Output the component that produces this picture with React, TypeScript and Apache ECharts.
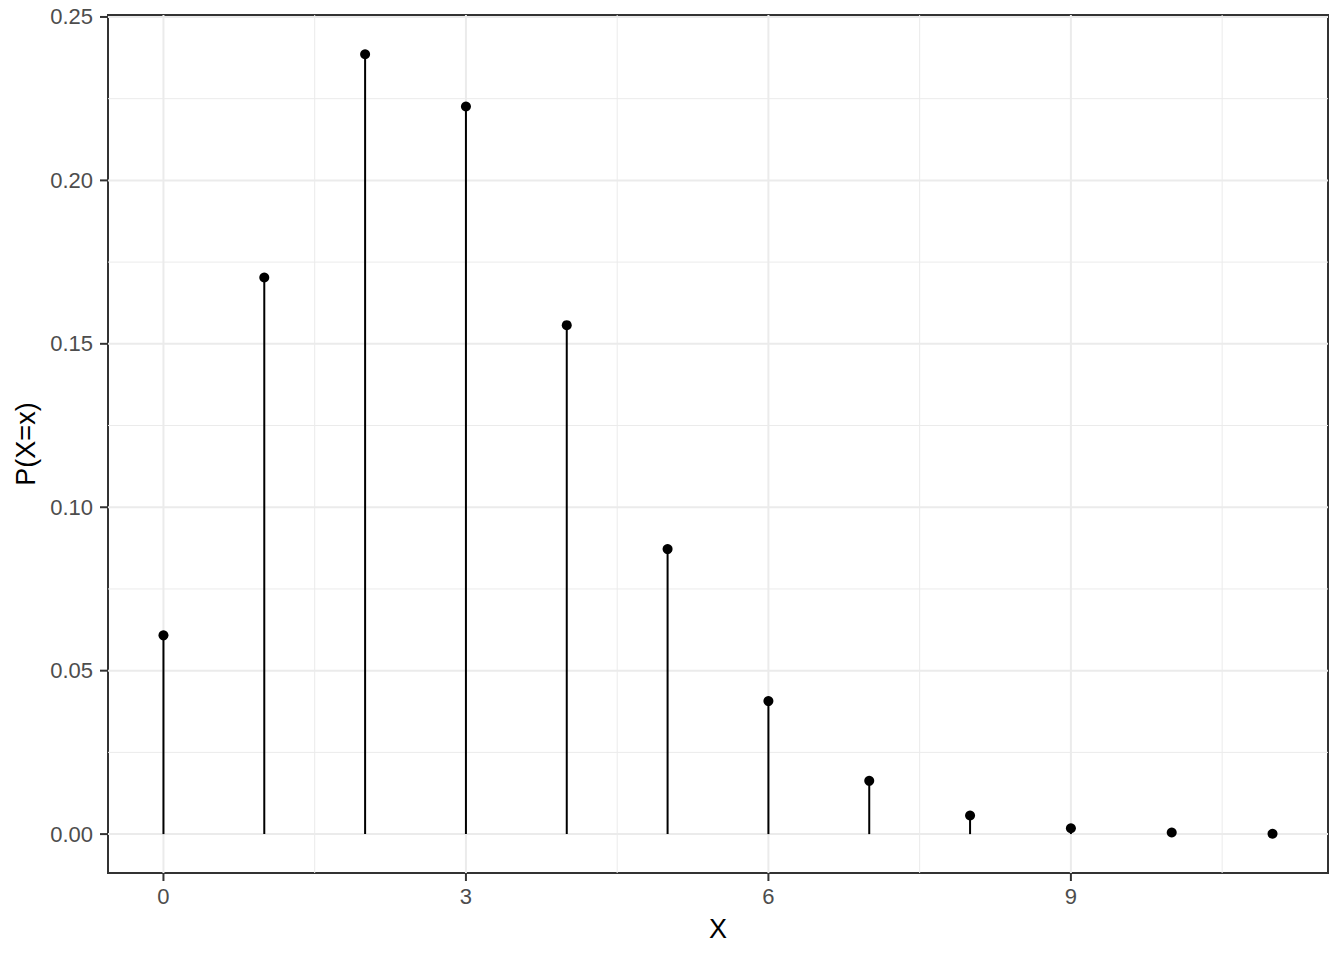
import React, { useEffect, useRef } from 'react';
import * as echarts from 'echarts';

// P(X=x), x = 0..11
const xValues = [0, 1, 2, 3, 4, 5, 6, 7, 8, 9, 10, 11];
const probValues = [0.0608, 0.1703, 0.2386, 0.2226, 0.1557, 0.0872, 0.0407, 0.0163, 0.0057, 0.0018, 0.0005, 0.0001];

const xTicks = [0, 3, 6, 9];
const xMinorGrid = [1.5, 4.5, 7.5, 10.5];
const yTicks = [0, 0.05, 0.1, 0.15, 0.2, 0.25];
const yMinorGrid = [0.025, 0.075, 0.125, 0.175, 0.225];

const X_MIN = -0.55;
const X_MAX = 11.55;
const Y_MIN = -0.0119;
const Y_MAX = 0.2506;

const FONT = '"Liberation Sans", Arial, sans-serif';
const GRID_COLOR = '#EBEBEB';
const FRAME = '#333333';
const TICK_LEN = 8;

// vertical / horizontal grid lines drawn through the axis scales
const vLines = (values: number[], width: number, z: number) => ({
    type: 'custom',
    silent: true,
    z,
    data: values.map((v) => [v, 0]),
    renderItem: (_params: any, api: any) => {
        const a = api.coord([api.value(0), Y_MIN]);
        const b = api.coord([api.value(0), Y_MAX]);
        return {
            type: 'line',
            shape: { x1: a[0], y1: a[1], x2: b[0], y2: b[1] },
            style: { stroke: GRID_COLOR, lineWidth: width },
        };
    },
});

const hLines = (values: number[], width: number, z: number) => ({
    type: 'custom',
    silent: true,
    z,
    data: values.map((v) => [0, v]),
    renderItem: (_params: any, api: any) => {
        const a = api.coord([X_MIN, api.value(1)]);
        const b = api.coord([X_MAX, api.value(1)]);
        return {
            type: 'line',
            shape: { x1: a[0], y1: a[1], x2: b[0], y2: b[1] },
            style: { stroke: GRID_COLOR, lineWidth: width },
        };
    },
});

// outward tick marks, like ggplot's
const xTickMarks = {
    type: 'custom',
    silent: true,
    clip: false,
    z: 20,
    data: xTicks.map((v) => [v, 0]),
    renderItem: (_params: any, api: any) => {
        const p = api.coord([api.value(0), Y_MIN]);
        return {
            type: 'line',
            shape: { x1: p[0], y1: p[1], x2: p[0], y2: p[1] + TICK_LEN },
            style: { stroke: FRAME, lineWidth: 2 },
        };
    },
};

const yTickMarks = {
    type: 'custom',
    silent: true,
    clip: false,
    z: 20,
    data: yTicks.map((v) => [0, v]),
    renderItem: (_params: any, api: any) => {
        const p = api.coord([X_MIN, api.value(1)]);
        return {
            type: 'line',
            shape: { x1: p[0] - TICK_LEN, y1: p[1], x2: p[0], y2: p[1] },
            style: { stroke: FRAME, lineWidth: 2 },
        };
    },
};

const App: React.FC = () => {
    const chartRef = useRef<HTMLDivElement>(null);

    useEffect(() => {
        if (!chartRef.current) return;
        const chart = echarts.init(chartRef.current, null, { renderer: 'svg' });

        const points = xValues.map((x, i) => [x, probValues[i]]);

        const option = {
            animation: false,
            backgroundColor: '#FFFFFF',
            grid: {
                left: 108,
                right: 16,
                top: 15,
                bottom: 87,
                show: true,
                borderColor: FRAME,
                borderWidth: 2,
                backgroundColor: 'transparent',
            },
            xAxis: {
                type: 'value',
                min: X_MIN,
                max: X_MAX,
                name: 'X',
                nameLocation: 'middle',
                nameGap: 42,
                nameTextStyle: { color: '#000000', fontSize: 27, fontFamily: FONT },
                axisLine: { show: false, onZero: false },
                splitLine: { show: false },
                axisTick: { show: false },
                axisLabel: {
                    customValues: xTicks,
                    color: '#4D4D4D',
                    fontSize: 22,
                    fontFamily: FONT,
                    margin: 12,
                },
            },
            yAxis: {
                type: 'value',
                min: Y_MIN,
                max: Y_MAX,
                name: 'P(X=x)',
                nameLocation: 'middle',
                nameRotate: 90,
                nameGap: 64,
                nameTextStyle: { color: '#000000', fontSize: 27, fontFamily: FONT },
                axisLine: { show: false, onZero: false },
                splitLine: { show: false },
                axisTick: { show: false },
                axisLabel: {
                    customValues: yTicks,
                    color: '#4D4D4D',
                    fontSize: 22,
                    fontFamily: FONT,
                    margin: 15,
                    formatter: (v: number) => v.toFixed(2),
                },
            },
            series: [
                vLines(xMinorGrid, 1, 1),
                hLines(yMinorGrid, 1, 1),
                vLines(xTicks, 2, 2),
                hLines(yTicks, 2, 2),
                xTickMarks,
                yTickMarks,
                {
                    type: 'custom',
                    silent: true,
                    z: 3,
                    data: points,
                    renderItem: (_params: any, api: any) => {
                        const base = api.coord([api.value(0), 0]);
                        const top = api.coord([api.value(0), api.value(1)]);
                        return {
                            type: 'line',
                            shape: { x1: base[0], y1: base[1], x2: top[0], y2: top[1] },
                            style: { stroke: '#000000', lineWidth: 2 },
                        };
                    },
                },
                {
                    type: 'scatter',
                    silent: true,
                    z: 4,
                    data: points,
                    symbol: 'circle',
                    symbolSize: 10,
                    itemStyle: { color: '#000000', opacity: 1 },
                },
            ],
        };

        chart.setOption(option);

        return () => {
            chart.dispose();
        };
    }, []);

    return (
        <div
            ref={chartRef}
            style={{ position: 'fixed', left: 0, top: 0, width: '1344px', height: '960px' }}
        />
    );
};

export default App;
